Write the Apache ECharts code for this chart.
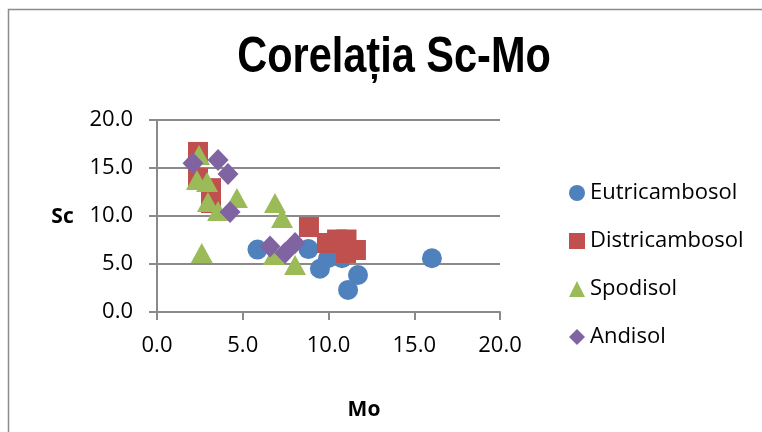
<!DOCTYPE html>
<html>
<head>
<meta charset="utf-8">
<script src="https://cdn.jsdelivr.net/npm/echarts@6/dist/echarts.min.js"></script>
<style>
  html, body { margin: 0; padding: 0; background: #ffffff; }
  #chart { width: 762px; height: 432px; }
</style>
</head>
<body>
<div id="chart"></div>
<script>
// Soil sample measurements: [Mo, Sc] pairs per soil type
const seriesNames = ['Eutricambosol', 'Districambosol', 'Spodisol', 'Andisol'];

const eutricambosol = [
  [5.86, 6.5], [8.83, 6.55], [9.5, 4.5], [9.97, 5.6],
  [10.79, 5.6], [11.72, 3.85], [11.14, 2.3], [16.03, 5.6]
];

const districambosol = [
  [2.39, 16.67], [2.39, 13.96], [3.15, 12.9], [3.15, 11.35],
  [8.86, 8.85], [9.91, 7.19], [10.5, 7.55], [11.05, 7.55],
  [11.6, 6.46], [11.02, 6.15]
];

const spodisol = [
  [2.45, 16.35], [2.33, 13.75], [2.92, 13.54], [2.97, 11.46],
  [3.56, 10.52], [4.66, 11.88], [2.61, 6.15], [6.88, 11.35],
  [7.29, 9.79], [6.82, 5.94], [8.05, 4.9]
];

const andisol = [
  [2.1, 15.5], [3.56, 15.83], [4.14, 14.38], [4.26, 10.42],
  [6.59, 6.82], [7.46, 6.15], [8.05, 7.19]
];

const xTicks = { min: 0, max: 20, interval: 5 };
const yTicks = { min: 0, max: 20, interval: 5 };

const colors = ['#4F81BD', '#C0504D', '#9BBB59', '#8064A2'];
const axisGray = '#8a8a8a';
const labelFont = 'Open Sans';

const chart = echarts.init(document.getElementById('chart'), null, { renderer: 'canvas' });

const fmt = v => v.toFixed(1);

chart.setOption({
  animation: false,
  backgroundColor: '#ffffff',
  color: colors,
  graphic: [
    {
      type: 'rect',
      shape: { x: 8.5, y: 9.5, width: 800, height: 500 },
      style: { fill: 'none', stroke: '#8c8c8c', lineWidth: 1.5 },
      silent: true
    },
    {
      // condensed bold title
      type: 'text',
      x: 394, y: 58,
      scaleX: 0.83,
      style: {
        text: 'Corelația Sc-Mo',
        align: 'center', verticalAlign: 'middle',
        font: 'bold 50px "Liberation Sans"',
        fill: '#000000'
      }
    },
    {
      type: 'text',
      x: 62.5, y: 217,
      style: {
        text: 'Sc', align: 'center', verticalAlign: 'middle',
        font: 'bold 21px "Open Sans"', fill: '#000000'
      }
    },
    {
      type: 'text',
      x: 364, y: 410,
      style: {
        text: 'Mo', align: 'center', verticalAlign: 'middle',
        font: 'bold 21px "Open Sans"', fill: '#000000'
      }
    }
  ],
  grid: { left: 157, right: 262, top: 120, bottom: 120 },
  legend: {
    orient: 'vertical',
    left: 564,
    top: 177,
    itemWidth: 16,
    itemHeight: 16,
    itemGap: 26,
    data: seriesNames,
    textStyle: { fontFamily: labelFont, fontSize: 22, color: '#000000' }
  },
  xAxis: {
    type: 'value',
    min: xTicks.min, max: xTicks.max, interval: xTicks.interval,
    axisLine: { show: true, lineStyle: { color: axisGray, width: 2 } },
    axisTick: { show: true, inside: false, length: 8, lineStyle: { color: axisGray, width: 2 } },
    splitLine: { show: false },
    axisLabel: { margin: 23, formatter: fmt, fontFamily: labelFont, fontSize: 22, color: '#000000' }
  },
  yAxis: {
    type: 'value',
    min: yTicks.min, max: yTicks.max, interval: yTicks.interval,
    axisLine: { show: true, lineStyle: { color: axisGray, width: 2 } },
    axisTick: { show: true, inside: false, length: 8, lineStyle: { color: axisGray, width: 2 } },
    splitLine: { show: true, lineStyle: { color: axisGray, width: 2 } },
    axisLabel: { margin: 24, formatter: fmt, fontFamily: labelFont, fontSize: 22, color: '#000000' }
  },
  series: [
    { name: seriesNames[0], type: 'scatter', symbol: 'circle', symbolSize: 20, data: eutricambosol, itemStyle: { opacity: 1 } },
    { name: seriesNames[1], type: 'scatter', symbol: 'rect', symbolSize: 20, data: districambosol, itemStyle: { opacity: 1 } },
    { name: seriesNames[2], type: 'scatter', symbol: 'triangle', symbolSize: [22, 20], data: spodisol, itemStyle: { opacity: 1 } },
    { name: seriesNames[3], type: 'scatter', symbol: 'diamond', symbolSize: [21, 22], data: andisol, itemStyle: { opacity: 1 } }
  ]
});
</script>
</body>
</html>
